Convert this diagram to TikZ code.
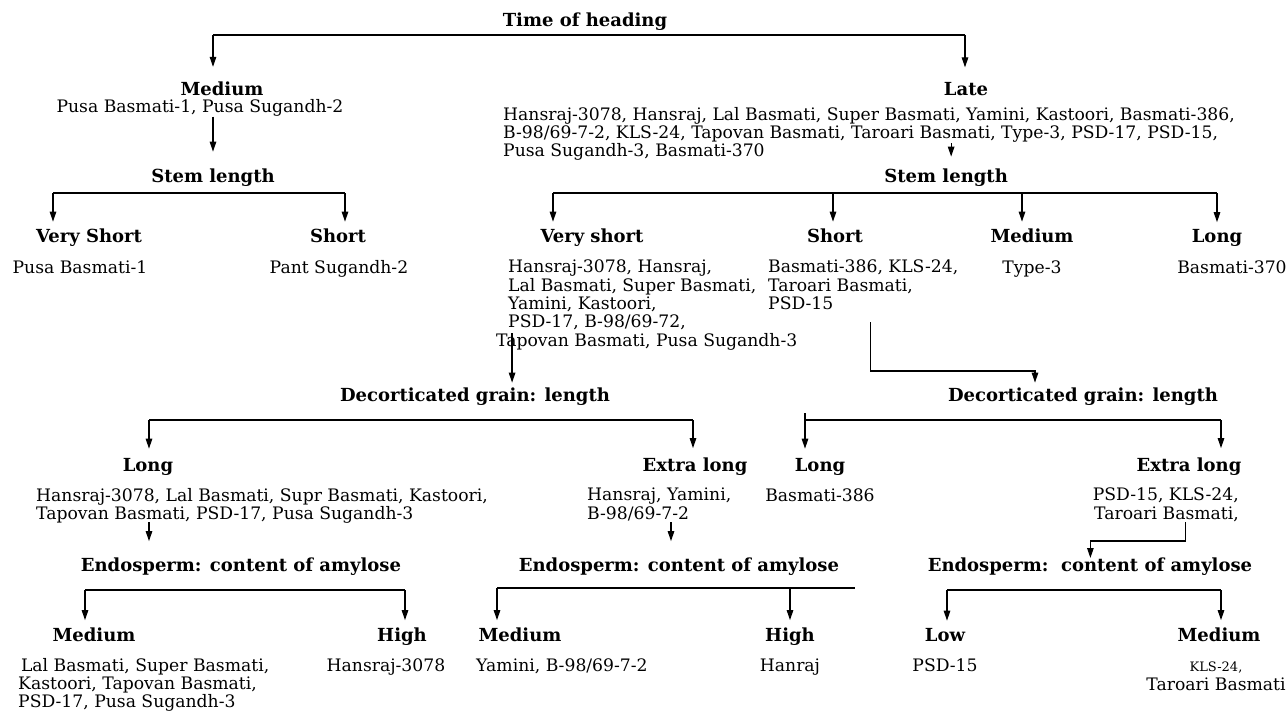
\documentclass[tikz,border=0pt]{standalone}
\usepackage{fontspec}
\setmainfont{DejaVu Serif}
\usetikzlibrary{arrows.meta,calc}
\newcommand{\bodyfont}{\fontsize{17.2}{18.3}\selectfont}
\newcommand{\headfont}{\bfseries\fontsize{18}{20}\selectfont}
\newlength\wLate \newlength\wT \newlength\wa \newlength\wP \newlength\wTB
\newlength\wSh \newlength\wSm \newlength\wCon \newlength\wn
\begin{document}
\settowidth\wLate{\bodyfont B-98/69-7-2, KLS-24, Tapovan Basmati, Taroari Bas}%
\settowidth\wT{\bodyfont T}%
\settowidth\wa{\bodyfont a}%
\settowidth\wP{\bodyfont PSD-15}%
\settowidth\wTB{\bodyfont Taroari Basmati,}%
\settowidth\wSm{\bodyfont smati,}%
\settowidth\wCon{\headfont Endosperm:\ \ con}%
\settowidth\wn{\headfont n}%
\setlength\wSh{0.53\wP}\addtolength\wSh{0.47\wTB}%
\addtolength\wCon{-0.5\wn}%
\begin{tikzpicture}[x=1pt,y=-1pt,
  hd/.style={font=\headfont, inner sep=0pt, anchor=base},
  bd/.style={font=\bodyfont, inner sep=0pt, anchor=base},
  bdl/.style={font=\bodyfont, inner sep=0pt, align=left, anchor=north west},
  ln/.style={line width=1.2pt},
  arr/.style={line width=1.2pt,-{Triangle[length=10pt,width=6.5pt]}}
]
\useasboundingbox (0,0) rectangle (1288,717);
% ---- level 0
\node[hd] (title) at (585,26.5) {Time of heading};
\coordinate (t1) at (213,35);
\coordinate (t2) at (965,35);
% ---- Medium branch
\node[hd] (med1) at (222,95.7) {Medium};
\node[bd] (med1b) at (200,112.7) {Pusa Basmati-1, Pusa Sugandh-2};
\node[hd] (stem1) at (213,182.5) {Stem length};
\coordinate (s1a) at (53,193);
\coordinate (s1b) at (345,193);
\node[hd] (vs1) at (89,242.5) {Very Short};
\node[hd] (sh1) at (338,242.5) {Short};
\node[bd] (vs1b) at (80,273) {Pusa Basmati-1};
\node[bd] (sh1b) at (339,273) {Pant Sugandh-2};
% ---- Late branch
\node[hd] (late) at (966,95.7) {Late};
\node[bdl] (lateb) at (503,107) {Hansraj-3078, Hansraj, Lal Basmati, Super Basmati, Yamini, Kastoori, Basmati-386,\\B-98/69-7-2, KLS-24, Tapovan Basmati, Taroari Basmati, Type-3, PSD-17, PSD-15,\\Pusa Sugandh-3, Basmati-370};
\coordinate (la) at ($(lateb.north west)+(\wLate,-36pt)$);
\coordinate (stemc) at (la |- 0,182.5);
\node[hd] (stem2) at ($(stemc)+(-5pt,0)$) {Stem length};
\coordinate (s2a) at (553,193);
\coordinate (s2b) at (833,193);
\coordinate (s2c) at (1022,193);
\coordinate (s2d) at (1217,193);
\node[hd] (vs2) at (592,242.5) {Very short};
\node[hd] (sh2) at (835,242.5) {Short};
\node[hd] (md2) at (1032,242.5) {Medium};
\node[hd] (lg2) at (1217,242.5) {Long};
\node[bdl] (vs2b) at (508,260) {Hansraj-3078, Hansraj,\\Lal Basmati, Super Basmati,\\Yamini, Kastoori,\\PSD-17, B-98/69-72,\\\hspace*{-12pt}Tapovan Basmati, Pusa Sugandh-3};
\node[bdl] (sh2b) at (768,260) {Basmati-386, KLS-24,\\Taroari Basmati,\\PSD-15};
\node[bd] (md2b) at (1032,273) {Type-3};
\node[bd] (lg2b) at (1232,273) {Basmati-370};
\coordinate (va) at ($(vs2b.north west)+(-12pt,-73pt)+(\wT,0)+(0.45\wa,0)$);
\coordinate (sa) at ($(sh2b.north west)+(\wSh,-62pt)$);
\coordinate (sb) at (sa |- 0,371);
\coordinate (sc) at (1035,371);
% ---- Decorticated (left)
\node[hd] (dec1) at (475,401.5) {Decorticated grain: length};
\coordinate (d1a) at (149,420);
\coordinate (d1b) at (693,420);
\node[hd] (lg3) at (148,471) {Long};
\node[hd] (xl3) at (695,471) {Extra long};
\node[bdl] (lg3b) at (36,488) {Hansraj-3078, Lal Basmati, Supr Basmati, Kastoori,\\Tapovan Basmati, PSD-17, Pusa Sugandh-3};
\node[bdl] (xl3b) at (587,488) {Hansraj, Yamini,\\B-98/69-7-2};
\coordinate (la3) at (149,522);
\coordinate (xa3) at (671,522);
\node[hd] (end1) at (241,571) {Endosperm: content of amylose};
\node[hd] (end2) at (679,571) {Endosperm: content of amylose};
\coordinate (e1a) at (85,590);
\coordinate (e1b) at (405,590);
\node[hd] (m4a) at (94,641) {Medium};
\node[hd] (h4a) at (402,641) {High};
\node[bdl] (m4ab) at (18,658) {\,Lal Basmati, Super Basmati,\\Kastoori, Tapovan Basmati,\\PSD-17, Pusa Sugandh-3};
\node[bd] (h4ab) at (386,671) {Hansraj-3078};
\coordinate (e2a) at (497,588);
\coordinate (e2b) at (790,588);
\coordinate (e2c) at (855,588);
\node[hd] (m4b) at (520,641) {Medium};
\node[hd] (h4b) at (790,641) {High};
\node[bd,anchor=base west] (m4bb) at (476,671) {Yamini, B-98/69-7-2};
\node[bd] (h4bb) at (790,671) {Hanraj};
% ---- Decorticated (right)
\node[hd] (dec2) at (1083,401.5) {Decorticated grain: length};
\coordinate (d2t) at (805,413);
\coordinate (d2a) at (805,420);
\coordinate (d2b) at (1221,420);
\node[hd] (lg5) at (820,471) {Long};
\node[hd] (xl5) at (1189,471) {Extra long};
\node[bd] (lg5b) at (820,501) {Basmati-386};
\node[font=\bodyfont, inner sep=0pt, align=right, anchor=north east] (xl5b) at (1239,488) {PSD-15, KLS-24,\\Taroari Basmati,};
\node[hd] (end3) at (1090,571) {Endosperm:\ \ content of amylose};
\coordinate (xa5) at ($(xl5b.north east)+(-\wSm,-34pt)$);
\coordinate (xb5) at (xa5 |- 0,541);
\coordinate (xd5) at ($(end3.base west)+(\wCon,13pt)$);
\coordinate (xc5) at (xd5 |- xb5);
\coordinate (e3a) at (947,590);
\coordinate (e3b) at (1221,590);
\node[hd] (lo6) at (945,641) {Low};
\node[hd] (m6) at (1219,641) {Medium};
\node[bd] (lo6b) at (945,671) {PSD-15};
\node[font=\bodyfont, inner sep=0pt, align=center, anchor=north] (m6b) at (1216,662) {{\fontsize{13}{18.3}\selectfont KLS-24,}\\Taroari Basmati};
% ---- connectors
\draw[ln] (t1) -- (t2);
\draw[arr,shorten >=15pt] (t1) -- (t1 |- med1.north);
\draw[arr,shorten >=15pt] (t2) -- (t2 |- late.north);
\draw[arr,shorten >=17pt] (med1b.south -| t1) -- (t1 |- stem1.north);
\draw[ln] (s1a) -- (s1b);
\draw[arr,shorten >=7pt] (s1a) -- (s1a |- vs1.north);
\draw[arr,shorten >=7pt] (s1b) -- (s1b |- sh1.north);
\draw[arr,shorten >=12pt] (la) -- (la |- stem2.north);
\draw[ln] (s2a) -- (s2d);
\draw[arr,shorten >=7pt] (s2a) -- (s2a |- vs2.north);
\draw[arr,shorten >=7pt] (s2b) -- (s2b |- sh2.north);
\draw[arr,shorten >=7pt] (s2c) -- (s2c |- md2.north);
\draw[arr,shorten >=7pt] (s2d) -- (s2d |- lg2.north);
\draw[arr,shorten >=5pt] (va) -- (va |- dec1.north);
\draw[arr,shorten >=5pt] (sa) -- (sb) -- (sc) -- (sc |- dec2.north);
\draw[ln] (d1a) -- (d1b);
\draw[arr,shorten >=9pt] (d1a) -- (d1a |- lg3.north);
\draw[arr,shorten >=9pt] (d1b) -- (d1b |- xl3.north);
\draw[arr,shorten >=16pt] (la3) -- (la3 |- end1.north);
\draw[arr,shorten >=16pt] (xa3) -- (xa3 |- end2.north);
\draw[ln] (e1a) -- (e1b);
\draw[arr,shorten >=7pt] (e1a) -- (e1a |- m4a.north);
\draw[arr,shorten >=7pt] (e1b) -- (e1b |- h4a.north);
\draw[ln] (e2a) -- (e2c);
\draw[arr,shorten >=7pt] (e2a) -- (e2a |- m4b.north);
\draw[arr,shorten >=7pt] (e2b) -- (e2b |- h4b.north);
\draw[ln] (d2t) -- (d2a) -- (d2b);
\draw[arr,shorten >=9pt] (d2a) -- (d2a |- lg5.north);
\draw[arr,shorten >=9pt] (d2b) -- (d2b |- xl5.north);
\draw[arr] (xa5) -- (xb5) -- (xc5) -- (xd5);
\draw[ln] (e3a) -- (e3b);
\draw[arr,shorten >=7pt] (e3a) -- (e3a |- lo6.north);
\draw[arr,shorten >=7pt] (e3b) -- (e3b |- m6.north);
\end{tikzpicture}
\end{document}
